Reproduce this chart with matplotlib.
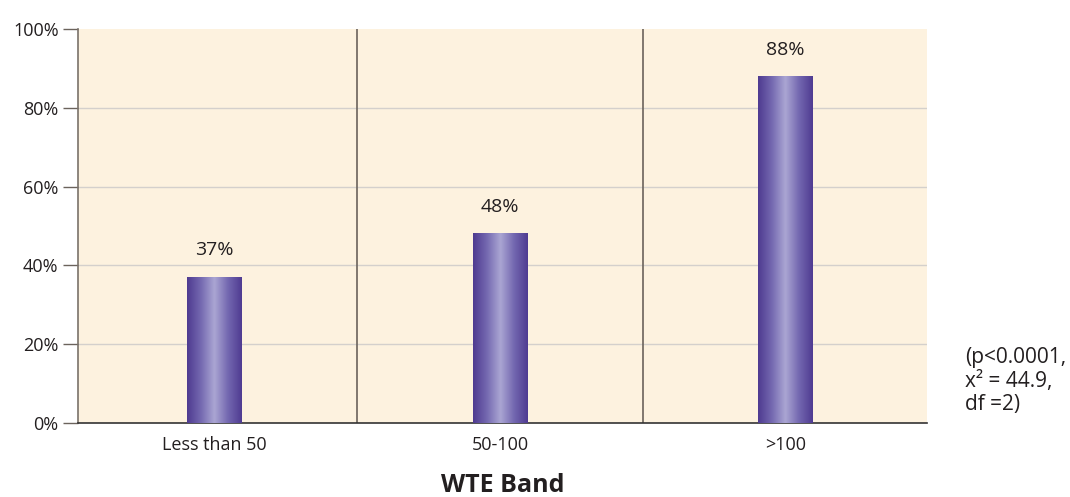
import matplotlib
matplotlib.use("Agg")
import matplotlib.pyplot as plt
import numpy as np
from matplotlib.colors import LinearSegmentedColormap

plt.rcParams['font.family'] = ['Open Sans', 'DejaVu Sans']

categories = ["Less than 50", "50-100", ">100"]
values = [37, 48, 88]
value_labels = ["37%", "48%", "88%"]
yticks = [0, 20, 40, 60, 80, 100]
ytick_labels = ["0%", "20%", "40%", "60%", "80%", "100%"]

fig = plt.figure(figsize=(10.70, 4.97), dpi=100)
ax = fig.add_axes([78/1070, 1 - 423/497, (927-78)/1070, (423-29)/497])
ax.set_facecolor("#fdf2df")

x = np.arange(len(categories))

cmap = LinearSegmentedColormap.from_list(
    "bar", [(0.0, "#4e3a90"), (0.25, "#7468b0"), (0.5, "#aba6d3"),
            (0.75, "#7367b0"), (1.0, "#4f3b91")])
grad = np.linspace(0, 1, 256).reshape(1, -1)
bw = 0.19
bars = ax.bar(x, values, width=bw, color="none", zorder=3)
for b, lab in zip(bars, value_labels):
    x0 = b.get_x(); w = b.get_width(); h = b.get_height()
    ax.imshow(grad, extent=[x0, x0 + w, 0, h], aspect="auto", cmap=cmap,
              zorder=3, interpolation="bicubic")
    ax.text(x0 + w/2, h + 4.5, lab,
            ha="center", va="bottom", fontsize=14, color="#231f20")
ax.set_xlim(-0.477, 2.495)
ax.set_ylim(0, 100)

for v in yticks[1:-1]:
    ax.axhline(v, color="#d4d0cc", lw=1, zorder=1)
for b in np.arange(0.5, len(categories) - 0.5, 1):
    ax.axvline(b, color="#6b635c", lw=1.2, zorder=2)

ax.set_yticks(yticks)
ax.set_yticklabels(ytick_labels, fontsize=13, color="#231f20")
ax.set_xticks(x)
ax.set_xticklabels(categories, fontsize=13, color="#231f20")
ax.tick_params(axis="y", length=11, width=1, color="#6b635c", pad=3)
ax.tick_params(axis="x", length=0, pad=9)
for s in ["top", "right"]:
    ax.spines[s].set_visible(False)
ax.spines["left"].set_color("#7a726a")
ax.spines["left"].set_linewidth(1.2)
ax.spines["bottom"].set_color("#333333")
ax.spines["bottom"].set_linewidth(1.2)

fig.text(503/1070, 1 - 485/497, "WTE Band", fontsize=18, fontweight="bold",
         color="#231f20", ha="center", va="center")

fig.text(965/1070, 1 - 381/497, "(p<0.0001,\nx² = 44.9,\ndf =2)", fontsize=15,
         color="#231f20", ha="left", va="center", linespacing=1.15)

fig.savefig("out.png", dpi=100)
